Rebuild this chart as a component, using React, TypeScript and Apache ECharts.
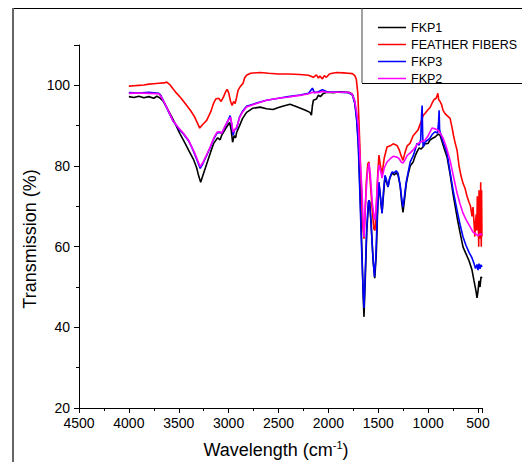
import React, { useEffect, useRef } from "react";
import * as echarts from "echarts";

// [wavenumber (cm-1), transmission (%)]
const fkp1: [number, number][] = [
  [4000, 97.2], [3950, 97.0], [3900, 97.3], [3850, 96.9], [3800, 97.2], [3750, 96.8], [3720, 97.3], [3690, 96.9],
  [3660, 96.2], [3620, 94.5], [3570, 92.2], [3530, 90.2], [3490, 88.1], [3440, 85.8], [3390, 83.4], [3350, 81.5],
  [3320, 79.5], [3300, 77.5], [3280, 76.0], [3260, 77.5], [3220, 80.5], [3180, 83.5], [3150, 85.6], [3110, 87.0],
  [3085, 86.5], [3070, 87.6], [3030, 89.3], [2990, 90.8], [2975, 89.0], [2960, 85.9], [2945, 87.5], [2930, 87.0],
  [2920, 88.3], [2890, 90.0], [2860, 91.8], [2820, 93.3], [2760, 94.3], [2685, 94.6], [2620, 94.2], [2555, 94.0],
  [2500, 94.5], [2450, 94.9], [2385, 95.3], [2330, 94.8], [2280, 94.3], [2230, 93.8], [2185, 93.3], [2170, 92.6],
  [2160, 95.0], [2150, 96.3], [2120, 96.6], [2100, 97.6], [2080, 97.2], [2050, 98.0], [2015, 98.3], [1950, 98.2],
  [1880, 98.4], [1820, 98.3], [1785, 98.2], [1760, 97.8], [1740, 96.5], [1720, 93.0], [1700, 86], [1680, 72],
  [1665, 60], [1650, 47], [1643, 42.6], [1630, 52], [1615, 64], [1595, 71.5], [1585, 71], [1570, 65], [1550, 56],
  [1535, 52.2], [1520, 58], [1505, 70], [1493, 75.7], [1478, 72], [1462, 68.3], [1447, 73], [1432, 77.5],
  [1417, 76], [1402, 74.8], [1385, 77], [1362, 78.3], [1340, 77.8], [1320, 78.3], [1302, 77.8], [1280, 75],
  [1265, 71], [1252, 68.5], [1240, 71], [1220, 75.5], [1202, 77.8], [1180, 80], [1150, 81], [1130, 82.5],
  [1112, 83.5], [1090, 84.5], [1070, 84.2], [1050, 84.8], [1030, 85.5], [1000, 85.6], [982, 86.4], [960, 86.8],
  [930, 87.2], [900, 87.9], [880, 87.6], [860, 86.0], [840, 84.4], [810, 82.2], [780, 78], [750, 73], [710, 67.3],
  [680, 63.5], [650, 59.9], [620, 58.2], [590, 56.5], [560, 54.2], [540, 51.5], [520, 49], [510, 47.3], [500, 49],
  [490, 51.5], [480, 50], [470, 52.5], [460, 52.2],
];

const featherFibers: [number, number][] = [
  [4000, 99.8], [3950, 99.9], [3900, 100.0], [3850, 100.1], [3800, 100.3], [3750, 100.4], [3700, 100.5],
  [3650, 100.6], [3620, 100.8], [3590, 100.2], [3560, 99.2], [3520, 98.0], [3470, 96.6], [3420, 95.0],
  [3380, 93.7], [3340, 92.1], [3310, 90.5], [3290, 89.4], [3260, 90.3], [3220, 91.3], [3180, 93.4], [3150, 95.6],
  [3130, 96.6], [3100, 96.8], [3075, 96.0], [3050, 97.2], [3030, 98.4], [3015, 99.0], [3000, 98.2], [2980, 96.0],
  [2965, 95.0], [2950, 96.0], [2935, 95.5], [2920, 97.0], [2905, 98.8], [2880, 99.8], [2855, 100.5],
  [2840, 101.8], [2820, 102.5], [2780, 103.0], [2685, 103.2], [2600, 103.0], [2500, 102.8], [2400, 102.8],
  [2285, 102.7], [2200, 102.5], [2150, 102.0], [2120, 102.6], [2100, 101.8], [2085, 102.3], [2060, 101.6],
  [2040, 102.4], [2020, 102.0], [1990, 102.8], [1960, 103.0], [1915, 103.2], [1850, 103.1], [1800, 103.0],
  [1760, 102.9], [1735, 102.4], [1720, 101.5], [1705, 98], [1695, 92], [1683, 84], [1670, 74], [1655, 65],
  [1643, 62.0], [1632, 68], [1620, 76], [1605, 80.5], [1593, 81], [1580, 76], [1560, 69], [1545, 64.5],
  [1533, 64.0], [1520, 70], [1505, 78], [1493, 82.7], [1478, 80], [1462, 78], [1440, 82], [1412, 84.7],
  [1380, 85], [1350, 85.5], [1312, 85.1], [1290, 84], [1270, 82.5], [1252, 81.4], [1230, 83.5], [1210, 85],
  [1182, 85.6], [1150, 87.5], [1102, 88.9], [1070, 91], [1050, 92.5], [1032, 93.0], [1000, 94.0], [980, 94.5],
  [962, 95.5], [940, 96.5], [920, 96.8], [902, 98.0], [895, 96.5], [880, 96.0], [865, 95.2], [850, 93.8],
  [830, 93.0], [810, 92.5], [780, 91.8], [760, 89.5], [745, 87.5], [730, 85.8], [710, 83.9], [690, 80],
  [670, 77.5], [650, 75.7], [630, 74.5], [610, 72.5], [590, 71], [575, 70], [560, 67.5], [550, 69.8], [540, 66],
  [532, 62.5], [525, 66], [518, 68], [512, 64], [507, 72.5], [503, 65], [498, 68], [493, 60], [490, 74],
  [487, 64], [484, 62], [480, 66.5], [476, 62], [473, 76], [470, 65], [467, 60], [464, 74], [461, 63], [460, 62.5],
];

const fkp3: [number, number][] = [
  [4000, 98.2], [3900, 98.1], [3800, 98.3], [3700, 98.0], [3680, 97.5], [3640, 95.5], [3600, 93.3], [3560, 91.3],
  [3500, 89.2], [3455, 88.0], [3400, 86.2], [3355, 83.8], [3320, 81.7], [3285, 79.4], [3260, 80.5], [3220, 82.6],
  [3185, 84.6], [3150, 86.7], [3115, 88.2], [3090, 88.3], [3070, 88.1], [3040, 89.5], [3005, 91.3], [2985, 92.5],
  [2970, 90.5], [2955, 87.6], [2940, 89.0], [2920, 89.3], [2890, 92.2], [2860, 93.6], [2820, 94.8], [2720, 95.6],
  [2620, 96.3], [2500, 96.8], [2400, 97.2], [2285, 97.6], [2200, 98.0], [2160, 99.3], [2140, 98.2], [2100, 98.4],
  [2060, 98.9], [2015, 98.4], [1900, 98.3], [1800, 98.2], [1760, 97.6], [1735, 95.5], [1715, 91], [1700, 85],
  [1683, 72], [1665, 58], [1650, 48], [1643, 44.8], [1630, 54], [1615, 65], [1600, 71], [1590, 71.5],
  [1575, 67], [1555, 58], [1538, 52.5], [1525, 57], [1510, 68], [1493, 76], [1478, 72.5], [1462, 68.3],
  [1447, 74], [1432, 77.7], [1417, 76.5], [1402, 74.8], [1385, 77], [1362, 78.5], [1340, 78.3], [1320, 78.8],
  [1302, 78.2], [1282, 75.5], [1265, 72], [1252, 69.8], [1240, 72], [1220, 76], [1202, 78.2], [1180, 81],
  [1150, 82.5], [1130, 84], [1112, 85.6], [1090, 85.2], [1075, 86.5], [1065, 93], [1060, 95], [1055, 88],
  [1050, 84.7], [1030, 86], [1000, 86.5], [982, 86.9], [960, 87.8], [930, 88.5], [905, 88.2], [895, 91],
  [890, 93.8], [885, 89], [870, 87.5], [845, 85.6], [810, 83.2], [780, 78.5], [750, 74], [710, 69], [680, 65.5],
  [650, 62.4], [620, 60.3], [590, 58.6], [560, 57.2], [540, 55.8], [525, 54.6], [510, 55.6], [500, 54.2],
  [490, 55.8], [480, 54.5], [470, 55.5], [460, 55.0],
];

const fkp2: [number, number][] = [
  [4000, 98.0], [3900, 98.1], [3800, 98.0], [3700, 97.9], [3680, 97.3], [3640, 95.5], [3600, 93.5], [3560, 91.3],
  [3500, 89.4], [3455, 88.2], [3400, 86.3], [3355, 84.0], [3320, 82.0], [3285, 79.8], [3260, 80.8], [3220, 82.8],
  [3185, 84.7], [3150, 86.9], [3115, 88.4], [3090, 88.5], [3070, 88.1], [3040, 89.7], [3005, 91.3], [2980, 92.1],
  [2965, 90], [2955, 88.4], [2940, 89.0], [2920, 89.6], [2890, 92.0], [2860, 93.4], [2820, 94.6], [2720, 95.5],
  [2620, 96.3], [2500, 96.8], [2400, 97.1], [2285, 97.5], [2200, 97.9], [2155, 98.3], [2100, 98.2], [2060, 98.5],
  [2015, 98.3], [1900, 98.3], [1800, 98.3], [1760, 97.8], [1735, 96], [1715, 93], [1700, 90], [1683, 82],
  [1663, 74], [1650, 65], [1643, 62.4], [1630, 70], [1610, 78], [1593, 80.7], [1580, 78], [1560, 71], [1540, 67],
  [1533, 66.6], [1520, 70], [1505, 77], [1493, 80.2], [1478, 79], [1462, 77], [1440, 79.5], [1412, 81],
  [1380, 81.8], [1350, 82.4], [1312, 82.2], [1290, 81.8], [1270, 81], [1252, 80.7], [1230, 81.6], [1210, 82.6],
  [1182, 83.2], [1150, 84], [1102, 85.6], [1070, 86], [1032, 86.4], [1000, 87.5], [962, 89.4], [930, 89.2],
  [902, 88.9], [880, 88.2], [850, 86.9], [815, 84.5], [780, 81.4], [745, 77.3], [710, 73.3], [680, 70.6],
  [650, 68.3], [620, 66.7], [590, 65.4], [550, 63.6], [520, 63.1], [500, 62.7], [480, 63.2], [460, 62.9],
];

const seriesNames = ["FKP1", "FEATHER FIBERS", "FKP3", "FKP2"];
const seriesData = [fkp1, featherFibers, fkp3, fkp2];
const seriesColors = ["#000000", "#ff0000", "#0000ff", "#ff00ff"];

const FONT = "'Liberation Sans', Arial, sans-serif";

export default function App() {
  const ref = useRef<HTMLDivElement>(null);
  useEffect(() => {
    if (!ref.current) return;
    const chart = echarts.init(ref.current, null, { renderer: "svg" });
    chart.setOption({
      animation: false,
      backgroundColor: "#ffffff",
      grid: { left: 79, right: 40, top: 45, bottom: 54, containLabel: false },
      legend: {
        data: seriesNames.map((n) => ({ name: n, icon: "rect" })),
        orient: "vertical",
        left: 373,
        top: 14,
        itemWidth: 28,
        itemHeight: 1.5,
        itemGap: 0,
        textStyle: { fontFamily: FONT, fontSize: 12.5, lineHeight: 17, color: "#000" },
      },
      xAxis: {
        type: "value",
        min: -4500,
        max: -460,
        interval: 500,
        axisLine: { onZero: false, lineStyle: { color: "#000", width: 1 } },
        axisTick: { show: true, inside: false, length: 5, lineStyle: { color: "#000" } },
        minorTick: { show: true, splitNumber: 2, length: 3, lineStyle: { color: "#000" } },
        splitLine: { show: false },
        axisLabel: {
          margin: 8,
          showMaxLabel: false,
          fontFamily: FONT,
          fontSize: 14,
          color: "#000",
          formatter: (v: number) => String(-v),
        },
      },
      yAxis: {
        type: "value",
        min: 20,
        max: 110,
        interval: 20,
        axisLine: { show: true, lineStyle: { color: "#000", width: 1 } },
        axisTick: { show: true, inside: false, length: 5, lineStyle: { color: "#000" } },
        minorTick: { show: true, splitNumber: 2, length: 3, lineStyle: { color: "#000" } },
        splitLine: { show: false },
        axisLabel: { margin: 9, showMaxLabel: false, fontFamily: FONT, fontSize: 14, color: "#000" },
      },
      series: seriesNames.map((name, i) => ({
        name,
        type: "line",
        data: seriesData[i].map(([x, y]) => [-x, y]),
        showSymbol: false,
        symbol: "none",
        color: seriesColors[i],
        lineStyle: { color: seriesColors[i], width: 1.6 },
        z: 2 + i,
      })),
      graphic: [
        { type: "line", shape: { x1: 12, y1: 8.5, x2: 522, y2: 8.5 }, style: { stroke: "#000", lineWidth: 1 } },
        { type: "line", shape: { x1: 13, y1: 8, x2: 13, y2: 462 }, style: { stroke: "#666", lineWidth: 2 } },
        { type: "line", shape: { x1: 362, y1: 8, x2: 362, y2: 83 }, style: { stroke: "#444", lineWidth: 1 } },
        { type: "line", shape: { x1: 362, y1: 83.5, x2: 522, y2: 83.5 }, style: { stroke: "#000", lineWidth: 1 } },
        {
          type: "text",
          x: 30,
          y: 239,
          rotation: Math.PI / 2,
          style: {
            text: "Transmission (%)",
            fontFamily: FONT,
            fontSize: 18,
            fill: "#000",
            align: "center",
            verticalAlign: "middle",
          },
        },
        {
          type: "text",
          x: 276,
          y: 450,
          style: {
            text: "{a|Wavelength (cm}{s|-1}{a|)}",
            align: "center",
            verticalAlign: "middle",
            rich: {
              a: { fontFamily: FONT, fontSize: 18, fill: "#000", color: "#000", lineHeight: 22 },
              s: { fontFamily: FONT, fontSize: 11, fill: "#000", color: "#000", lineHeight: 10, verticalAlign: "top" },
            },
          },
        },
      ],
    });
    return () => chart.dispose();
  }, []);
  return (
    <div
      ref={ref}
      style={{ position: "fixed", left: 0, top: 0, width: 522, height: 462, background: "#fff" }}
    />
  );
}
